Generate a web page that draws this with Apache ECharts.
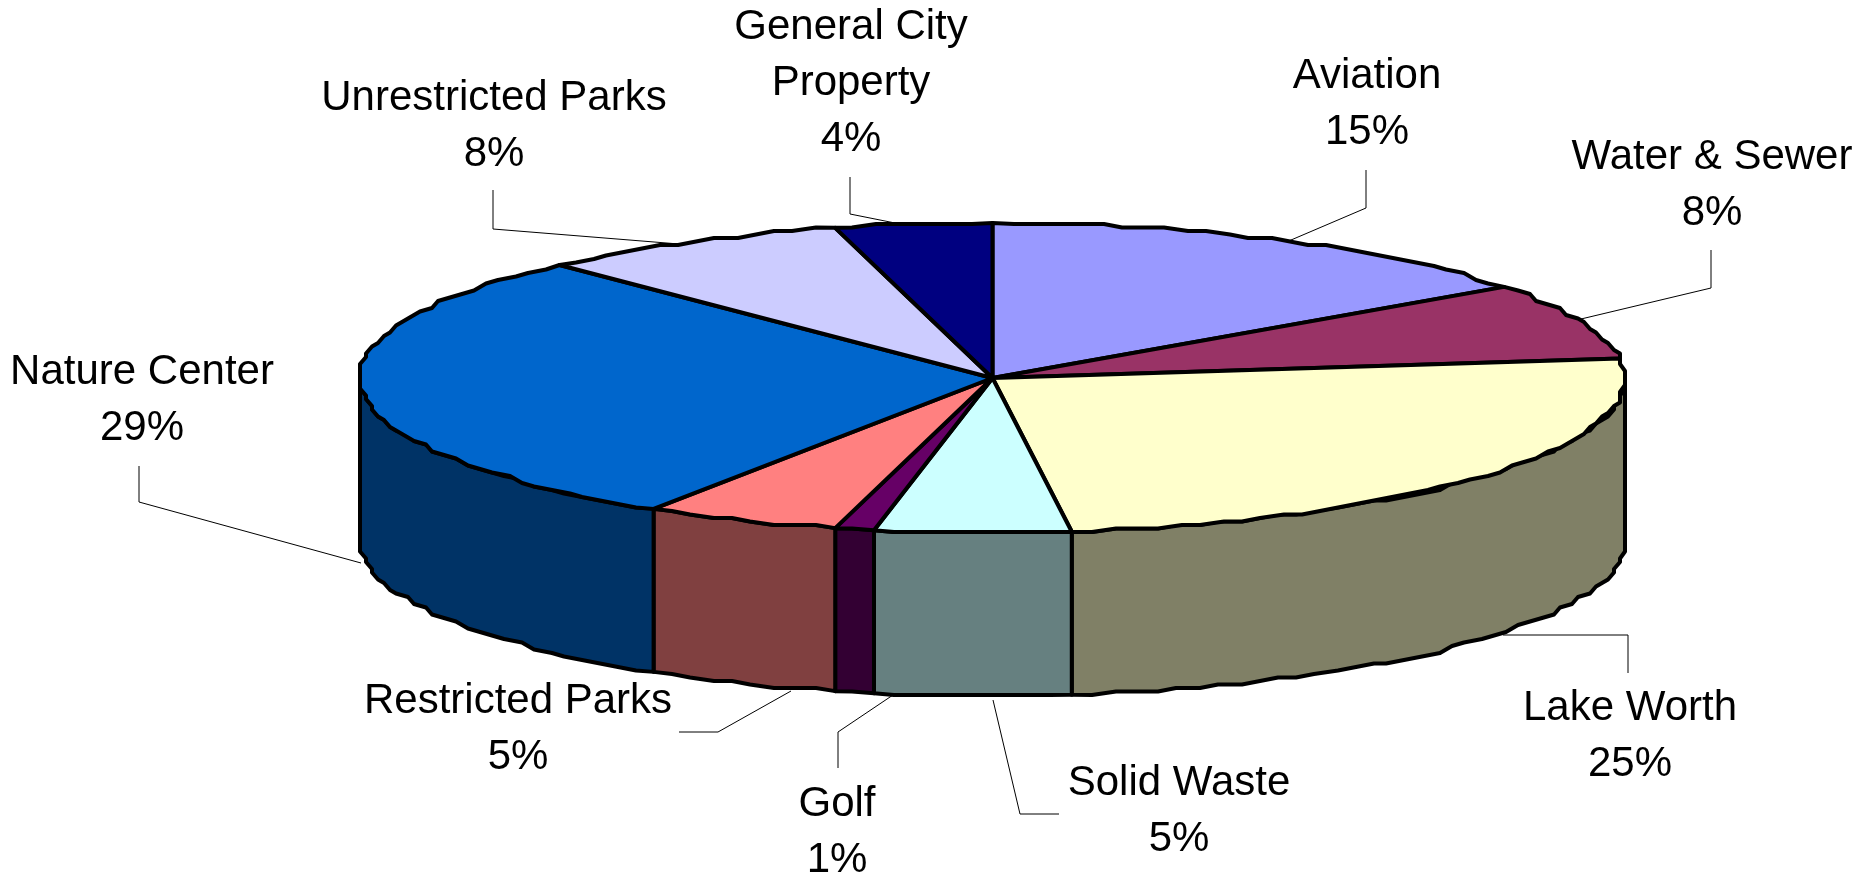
<!DOCTYPE html>
<html>
<head>
<meta charset="utf-8">
<title>Fund share by department</title>
<style>html,body{margin:0;padding:0;background:#fff}#chart{width:1867px;height:876px}</style>
<script src="https://cdn.jsdelivr.net/npm/echarts@6/dist/echarts.min.js"></script>
</head>
<body>
<div id="chart"></div>
<script>
// Slices run clockwise from twelve o'clock.
const sliceNames = ['Aviation', 'Water & Sewer', 'Lake Worth', 'Solid Waste', 'Golf',
  'Restricted Parks', 'Nature Center', 'Unrestricted Parks', 'General City\nProperty'];
const sliceValues = [15, 8, 25, 5, 1, 5, 29, 8, 4];
const topColors = ['#9999FF', '#993366', '#FFFFCC', '#CCFFFF', '#660066', '#FF8080', '#0066CC', '#CCCCFF', '#000080'];
const wallColors = ['#4D4D80', '#4D1A33', '#808066', '#668080', '#330033', '#804040', '#003366', '#666680', '#000040'];

// Label centres and leader-line routes, in page pixels.
const labelCentres = [[1367, 104], [1712, 185], [1630, 736], [1179, 811], [837, 832],
  [518, 729], [142, 400], [494, 126], [851, 83]];
const leaderRoutes = [
  [[1366, 170], [1366, 208], [1284, 243]],
  [[1711, 250], [1711, 288], [1581, 319]],
  [[1628, 673], [1628, 635], [1503, 635]],
  [[1059, 814], [1020, 814], [993, 700]],
  [[838, 768], [838, 732], [893, 695]],
  [[679, 732], [718, 732], [791, 691]],
  [[139, 466], [139, 502], [361, 563]],
  [[493, 190], [493, 229], [679, 244]],
  [[850, 177], [850, 214], [895, 223]]
];

const DEPTH = 163;       // height of the cylinder wall
const GRID_X = 6;        // rim points snap to this coarse grid, giving the stepped outline
const GRID_Y = 3.5;
const FONT = '42px "Liberation Sans", Arial, sans-serif';

const total = sliceValues.reduce((a, b) => a + b, 0);
let running = 0;
const sliceRanges = sliceValues.map((v, i) => {
  const start = running / total * 360;
  running += v;
  return [start, running / total * 360, i];
});

function rimPoint(api, deg) {
  const t = deg * Math.PI / 180;
  return api.coord([Math.sin(t), Math.cos(t)]);
}

// Snap a rim point to the coarse grid without letting it pass the ellipse's side extremes.
function snap(api, p) {
  const left = api.coord([-1, 0])[0];
  const right = api.coord([1, 0])[0];
  const x = Math.round(p[0] / GRID_X) * GRID_X;
  return [Math.min(right, Math.max(left, x)), Math.round(p[1] / GRID_Y) * GRID_Y];
}

function arc(api, from, to) {
  const pts = [];
  const n = Math.max(2, Math.ceil((to - from) / 2));
  for (let k = 0; k <= n; k++) {
    const p = rimPoint(api, from + (to - from) * k / n);
    pts.push(k === 0 || k === n ? p : snap(api, p));
  }
  return pts;
}

const edge = { stroke: '#000', lineWidth: 4, lineJoin: 'round' };

function renderWall(params, api) {
  const i = api.value(2);
  const from = Math.max(api.value(0), 90);
  const to = Math.min(api.value(1), 270);
  if (to <= from) return { type: 'group', children: [] };
  const upper = arc(api, from, to);
  const lower = upper.slice().reverse().map(p => [p[0], p[1] + DEPTH]);
  return {
    type: 'polygon',
    shape: { points: upper.concat(lower) },
    style: Object.assign({ fill: wallColors[i] }, edge)
  };
}

function renderTop(params, api) {
  const i = api.value(2);
  const centre = api.coord([0, 0]);
  return {
    type: 'polygon',
    shape: { points: [centre].concat(arc(api, api.value(0), api.value(1))) },
    style: Object.assign({ fill: topColors[i] }, edge)
  };
}

function renderLabel(params, api) {
  const i = api.value(2);
  return {
    type: 'group',
    children: [
      {
        type: 'polyline',
        shape: { points: leaderRoutes[i] },
        style: { stroke: '#000', lineWidth: 1, fill: null }
      },
      {
        type: 'text',
        style: {
          text: sliceNames[i] + '\n' + sliceValues[i] + '%',
          x: labelCentres[i][0],
          y: labelCentres[i][1],
          align: 'center',
          verticalAlign: 'middle',
          font: FONT,
          lineHeight: 56,
          fill: '#000'
        }
      }
    ]
  };
}

const chart = echarts.init(document.getElementById('chart'), null, { renderer: 'canvas' });
const encode = { x: 0, y: 1 };
chart.setOption({
  animation: false,
  backgroundColor: '#fff',
  grid: { left: 360, top: 223, width: 1265, height: 310, containLabel: false },
  xAxis: { type: 'value', min: -1, max: 1, show: false },
  yAxis: { type: 'value', min: -1, max: 1, show: false },
  series: [
    { type: 'custom', name: 'labels', silent: true, clip: false, z: 1, renderItem: renderLabel, data: sliceRanges, encode },
    { type: 'custom', name: 'walls', silent: true, clip: false, z: 2, renderItem: renderWall, data: sliceRanges, encode },
    { type: 'custom', name: 'tops', silent: true, clip: false, z: 3, renderItem: renderTop, data: sliceRanges, encode }
  ]
});
</script>
</body>
</html>
